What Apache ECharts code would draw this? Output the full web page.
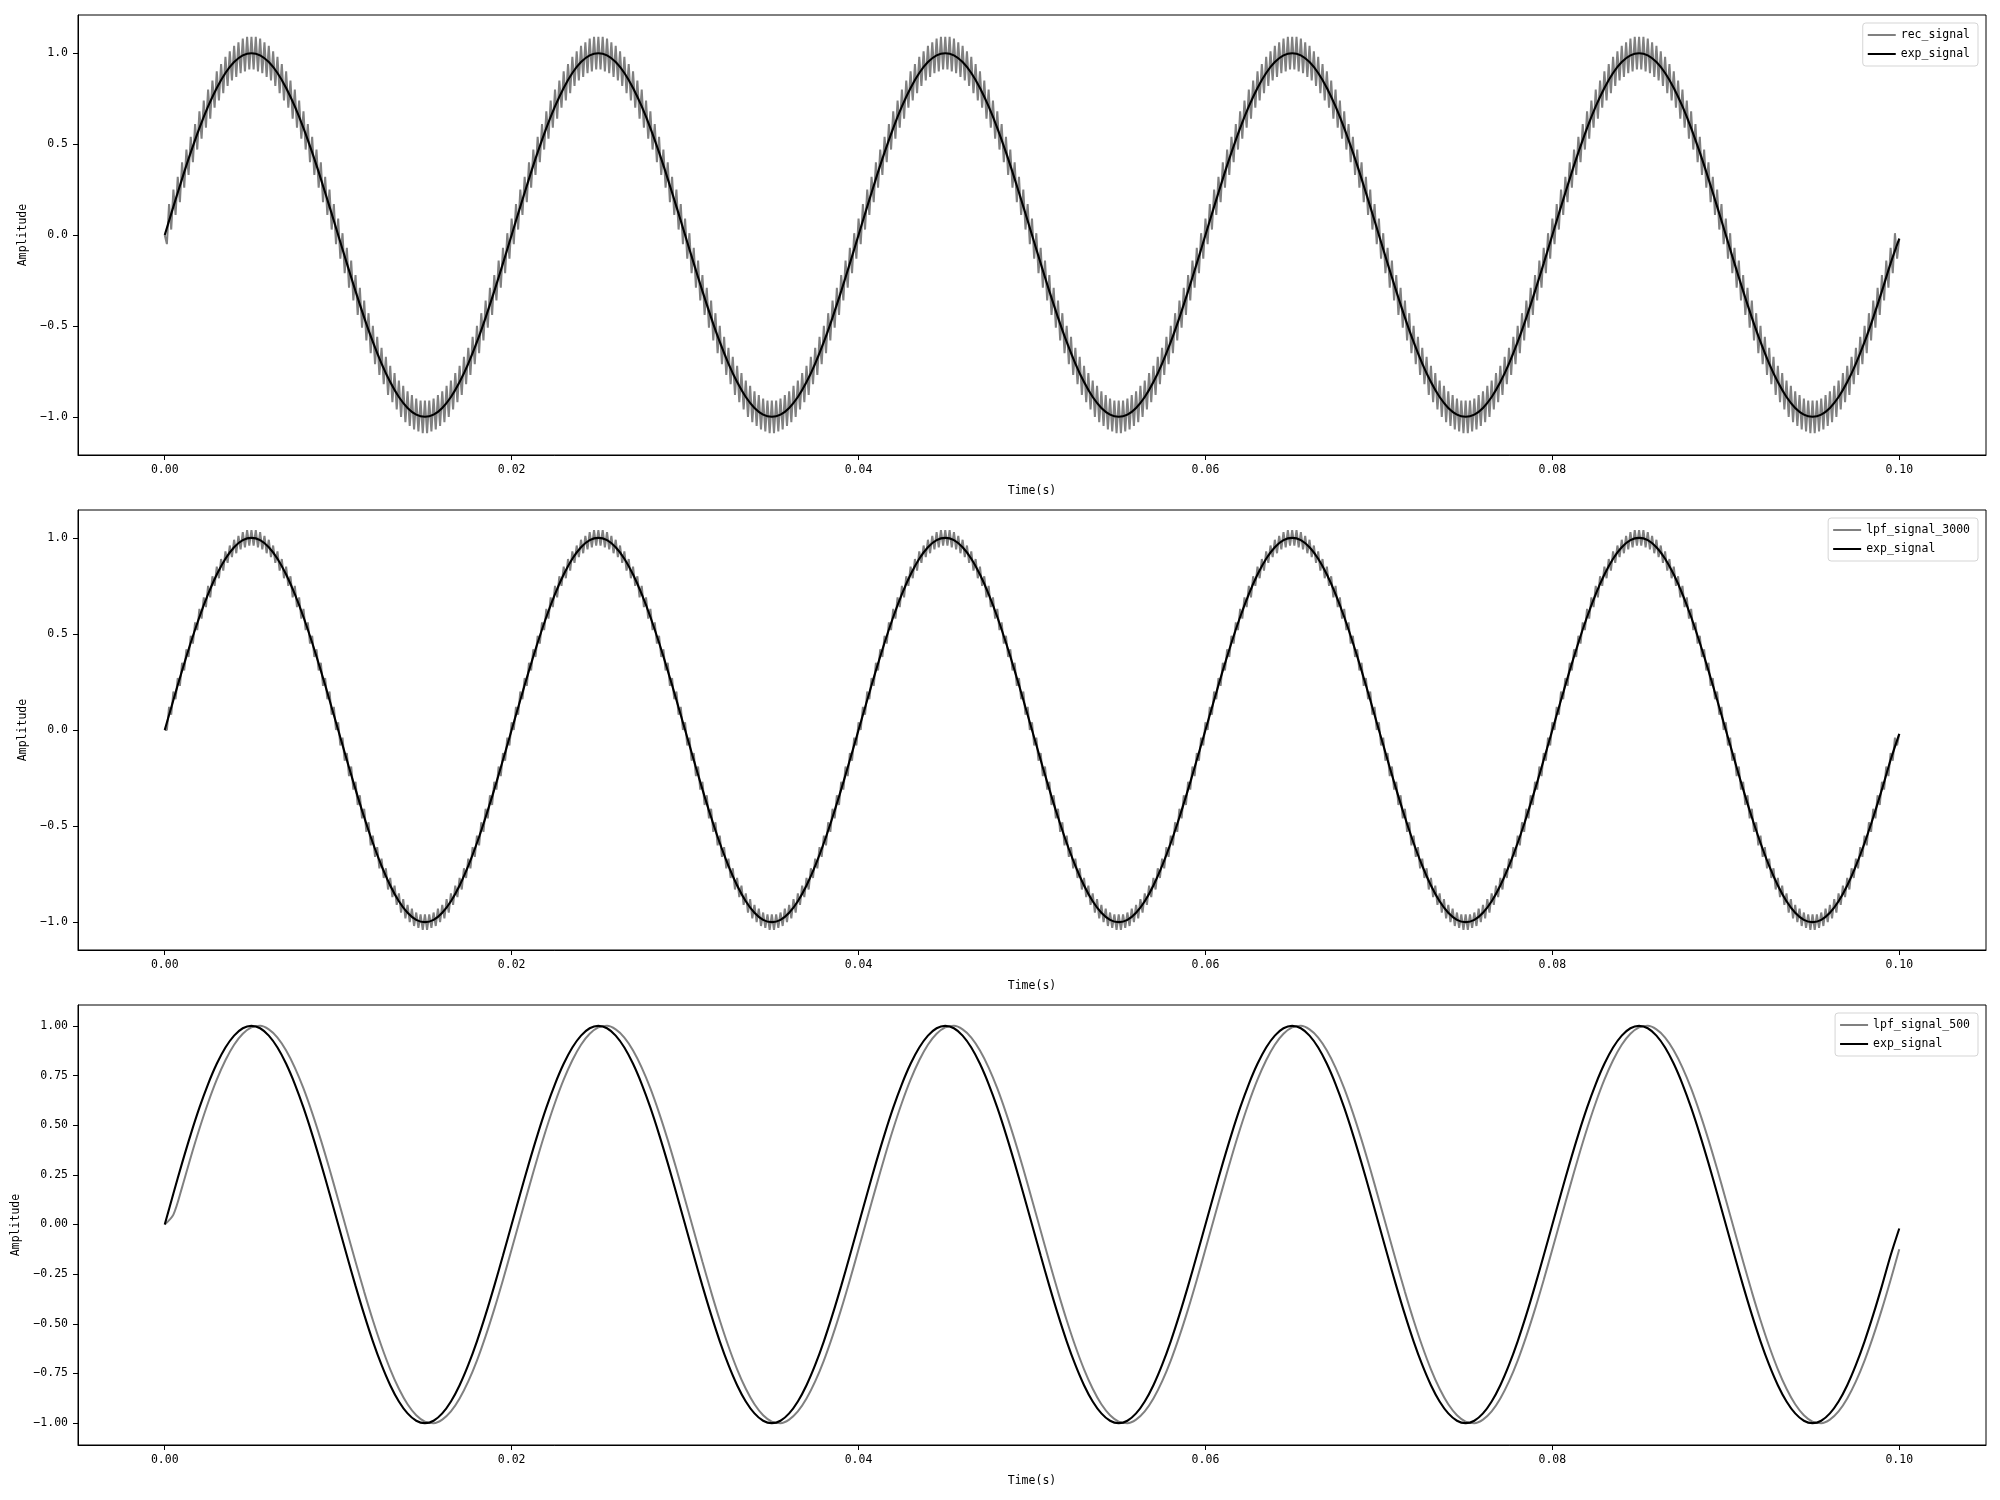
<!DOCTYPE html>
<html>
<head>
<meta charset="utf-8">
<script src="https://cdn.jsdelivr.net/npm/echarts@6/dist/echarts.min.js"></script>
<style>
html, body { margin: 0; background: #fff; }
#main { width: 2000px; height: 1500px; }
</style>
</head>
<body>
<div id="main"></div>
<script>
// sample spacing of the traces (s)
var recStep = 0.000125;
var smoothStep = 0.0005;

var xTicks = [0, 0.02, 0.04, 0.06, 0.08, 0.1];
var yTicksHalf = [-1, -0.5, 0, 0.5, 1];
var yTicksQuarter = [-1, -0.75, -0.5, -0.25, 0, 0.25, 0.5, 0.75, 1];

// raw reconstructed signal, ripple
var recSignal = [
0.00,-0.05,0.17,0.03,0.25,0.11,0.32,0.18,0.40,0.26,0.47,0.33,0.54,0.40,0.61,0.47,0.68,0.53,0.74,0.59,0.80,0.64,0.85,0.70,0.90,0.74,0.94,0.78,0.98,0.82,1.01,0.85,1.04,0.87,1.06,0.89,1.08,0.90,1.09,0.91,1.09,0.91,1.09,0.90,1.08,0.89,1.06,0.87,1.04,0.85,1.01,0.82,0.98,0.78,0.94,0.74,0.90,0.70,0.85,0.64,0.80,0.59,0.74,0.53,0.68,0.47,0.61,0.40,0.54,0.33,0.47,0.26,0.40,0.18,0.32,0.11,0.25,0.03,0.17,-0.05,
0.09,-0.13,0.01,-0.21,-0.07,-0.29,-0.14,-0.36,-0.22,-0.44,-0.29,-0.51,-0.36,-0.58,-0.43,-0.65,-0.50,-0.71,-0.56,-0.77,-0.62,-0.82,-0.67,-0.88,-0.72,-0.92,-0.76,-0.96,-0.80,-1.00,-0.83,-1.03,-0.86,-1.05,-0.88,-1.07,-0.90,-1.08,-0.91,-1.09,-0.91,-1.09,-0.91,-1.08,-0.90,-1.07,-0.88,-1.05,-0.86,-1.03,-0.83,-1.00,-0.80,-0.96,-0.76,-0.92,-0.72,-0.88,-0.67,-0.82,-0.62,-0.77,-0.56,-0.71,-0.50,-0.65,-0.43,-0.58,-0.36,-0.51,-0.29,-0.44,-0.22,-0.36,-0.14,-0.29,-0.07,-0.21,0.01,-0.13,
0.09,-0.05,0.17,0.03,0.25,0.11,0.32,0.18,0.40,0.26,0.47,0.33,0.54,0.40,0.61,0.47,0.68,0.53,0.74,0.59,0.80,0.64,0.85,0.70,0.90,0.74,0.94,0.78,0.98,0.82,1.01,0.85,1.04,0.87,1.06,0.89,1.08,0.90,1.09,0.91,1.09,0.91,1.09,0.90,1.08,0.89,1.06,0.87,1.04,0.85,1.01,0.82,0.98,0.78,0.94,0.74,0.90,0.70,0.85,0.64,0.80,0.59,0.74,0.53,0.68,0.47,0.61,0.40,0.54,0.33,0.47,0.26,0.40,0.18,0.32,0.11,0.25,0.03,0.17,-0.05,
0.09,-0.13,0.01,-0.21,-0.07,-0.29,-0.14,-0.36,-0.22,-0.44,-0.29,-0.51,-0.36,-0.58,-0.43,-0.65,-0.50,-0.71,-0.56,-0.77,-0.62,-0.82,-0.67,-0.88,-0.72,-0.92,-0.76,-0.96,-0.80,-1.00,-0.83,-1.03,-0.86,-1.05,-0.88,-1.07,-0.90,-1.08,-0.91,-1.09,-0.91,-1.09,-0.91,-1.08,-0.90,-1.07,-0.88,-1.05,-0.86,-1.03,-0.83,-1.00,-0.80,-0.96,-0.76,-0.92,-0.72,-0.88,-0.67,-0.82,-0.62,-0.77,-0.56,-0.71,-0.50,-0.65,-0.43,-0.58,-0.36,-0.51,-0.29,-0.44,-0.22,-0.36,-0.14,-0.29,-0.07,-0.21,0.01,-0.13,
0.09,-0.05,0.17,0.03,0.25,0.11,0.32,0.18,0.40,0.26,0.47,0.33,0.54,0.40,0.61,0.47,0.68,0.53,0.74,0.59,0.80,0.64,0.85,0.70,0.90,0.74,0.94,0.78,0.98,0.82,1.01,0.85,1.04,0.87,1.06,0.89,1.08,0.90,1.09,0.91,1.09,0.91,1.09,0.90,1.08,0.89,1.06,0.87,1.04,0.85,1.01,0.82,0.98,0.78,0.94,0.74,0.90,0.70,0.85,0.64,0.80,0.59,0.74,0.53,0.68,0.47,0.61,0.40,0.54,0.33,0.47,0.26,0.40,0.18,0.32,0.11,0.25,0.03,0.17,-0.05,
0.09,-0.13,0.01,-0.21,-0.07,-0.29,-0.14,-0.36,-0.22,-0.44,-0.29,-0.51,-0.36,-0.58,-0.43,-0.65,-0.50,-0.71,-0.56,-0.77,-0.62,-0.82,-0.67,-0.88,-0.72,-0.92,-0.76,-0.96,-0.80,-1.00,-0.83,-1.03,-0.86,-1.05,-0.88,-1.07,-0.90,-1.08,-0.91,-1.09,-0.91,-1.09,-0.91,-1.08,-0.90,-1.07,-0.88,-1.05,-0.86,-1.03,-0.83,-1.00,-0.80,-0.96,-0.76,-0.92,-0.72,-0.88,-0.67,-0.82,-0.62,-0.77,-0.56,-0.71,-0.50,-0.65,-0.43,-0.58,-0.36,-0.51,-0.29,-0.44,-0.22,-0.36,-0.14,-0.29,-0.07,-0.21,0.01,-0.13,
0.09,-0.05,0.17,0.03,0.25,0.11,0.32,0.18,0.40,0.26,0.47,0.33,0.54,0.40,0.61,0.47,0.68,0.53,0.74,0.59,0.80,0.64,0.85,0.70,0.90,0.74,0.94,0.78,0.98,0.82,1.01,0.85,1.04,0.87,1.06,0.89,1.08,0.90,1.09,0.91,1.09,0.91,1.09,0.90,1.08,0.89,1.06,0.87,1.04,0.85,1.01,0.82,0.98,0.78,0.94,0.74,0.90,0.70,0.85,0.64,0.80,0.59,0.74,0.53,0.68,0.47,0.61,0.40,0.54,0.33,0.47,0.26,0.40,0.18,0.32,0.11,0.25,0.03,0.17,-0.05,
0.09,-0.13,0.01,-0.21,-0.07,-0.29,-0.14,-0.36,-0.22,-0.44,-0.29,-0.51,-0.36,-0.58,-0.43,-0.65,-0.50,-0.71,-0.56,-0.77,-0.62,-0.82,-0.67,-0.88,-0.72,-0.92,-0.76,-0.96,-0.80,-1.00,-0.83,-1.03,-0.86,-1.05,-0.88,-1.07,-0.90,-1.08,-0.91,-1.09,-0.91,-1.09,-0.91,-1.08,-0.90,-1.07,-0.88,-1.05,-0.86,-1.03,-0.83,-1.00,-0.80,-0.96,-0.76,-0.92,-0.72,-0.88,-0.67,-0.82,-0.62,-0.77,-0.56,-0.71,-0.50,-0.65,-0.43,-0.58,-0.36,-0.51,-0.29,-0.44,-0.22,-0.36,-0.14,-0.29,-0.07,-0.21,0.01,-0.13,
0.09,-0.05,0.17,0.03,0.25,0.11,0.32,0.18,0.40,0.26,0.47,0.33,0.54,0.40,0.61,0.47,0.68,0.53,0.74,0.59,0.80,0.64,0.85,0.70,0.90,0.74,0.94,0.78,0.98,0.82,1.01,0.85,1.04,0.87,1.06,0.89,1.08,0.90,1.09,0.91,1.09,0.91,1.09,0.90,1.08,0.89,1.06,0.87,1.04,0.85,1.01,0.82,0.98,0.78,0.94,0.74,0.90,0.70,0.85,0.64,0.80,0.59,0.74,0.53,0.68,0.47,0.61,0.40,0.54,0.33,0.47,0.26,0.40,0.18,0.32,0.11,0.25,0.03,0.17,-0.05,
0.09,-0.13,0.01,-0.21,-0.07,-0.29,-0.14,-0.36,-0.22,-0.44,-0.29,-0.51,-0.36,-0.58,-0.43,-0.65,-0.50,-0.71,-0.56,-0.77,-0.62,-0.82,-0.67,-0.88,-0.72,-0.92,-0.76,-0.96,-0.80,-1.00,-0.83,-1.03,-0.86,-1.05,-0.88,-1.07,-0.90,-1.08,-0.91,-1.09,-0.91,-1.09,-0.91,-1.08,-0.90,-1.07,-0.88,-1.05,-0.86,-1.03,-0.83,-1.00,-0.80,-0.96,-0.76,-0.92,-0.72,-0.88,-0.67,-0.82,-0.62,-0.77,-0.56,-0.71,-0.50,-0.65,-0.43,-0.58,-0.36,-0.51,-0.29,-0.44,-0.22,-0.36,-0.14,-0.29,-0.07,-0.21,0.01,-0.13,
-0.02
];

// after 3000 Hz low-pass, smaller ripple
var lpf3000Signal = [
0.00,0.00,0.12,0.08,0.20,0.16,0.27,0.23,0.35,0.31,0.42,0.38,0.49,0.45,0.56,0.52,0.63,0.58,0.69,0.64,0.75,0.69,0.80,0.75,0.85,0.79,0.89,0.83,0.93,0.87,0.96,0.90,0.99,0.92,1.01,0.94,1.03,0.95,1.04,0.96,1.04,0.96,1.04,0.95,1.03,0.94,1.01,0.92,0.99,0.90,0.96,0.87,0.93,0.83,0.89,0.79,0.85,0.75,0.80,0.69,0.75,0.64,0.69,0.58,0.63,0.52,0.56,0.45,0.49,0.38,0.42,0.31,0.35,0.23,0.27,0.16,0.20,0.08,0.12,0.00,
0.04,-0.08,-0.04,-0.16,-0.12,-0.24,-0.19,-0.31,-0.27,-0.39,-0.34,-0.46,-0.41,-0.53,-0.48,-0.60,-0.55,-0.66,-0.61,-0.72,-0.67,-0.77,-0.72,-0.83,-0.77,-0.87,-0.81,-0.91,-0.85,-0.95,-0.88,-0.98,-0.91,-1.00,-0.93,-1.02,-0.95,-1.03,-0.96,-1.04,-0.96,-1.04,-0.96,-1.03,-0.95,-1.02,-0.93,-1.00,-0.91,-0.98,-0.88,-0.95,-0.85,-0.91,-0.81,-0.87,-0.77,-0.83,-0.72,-0.77,-0.67,-0.72,-0.61,-0.66,-0.55,-0.60,-0.48,-0.53,-0.41,-0.46,-0.34,-0.39,-0.27,-0.31,-0.19,-0.24,-0.12,-0.16,-0.04,-0.08,
0.04,0.00,0.12,0.08,0.20,0.16,0.27,0.23,0.35,0.31,0.42,0.38,0.49,0.45,0.56,0.52,0.63,0.58,0.69,0.64,0.75,0.69,0.80,0.75,0.85,0.79,0.89,0.83,0.93,0.87,0.96,0.90,0.99,0.92,1.01,0.94,1.03,0.95,1.04,0.96,1.04,0.96,1.04,0.95,1.03,0.94,1.01,0.92,0.99,0.90,0.96,0.87,0.93,0.83,0.89,0.79,0.85,0.75,0.80,0.69,0.75,0.64,0.69,0.58,0.63,0.52,0.56,0.45,0.49,0.38,0.42,0.31,0.35,0.23,0.27,0.16,0.20,0.08,0.12,0.00,
0.04,-0.08,-0.04,-0.16,-0.12,-0.24,-0.19,-0.31,-0.27,-0.39,-0.34,-0.46,-0.41,-0.53,-0.48,-0.60,-0.55,-0.66,-0.61,-0.72,-0.67,-0.77,-0.72,-0.83,-0.77,-0.87,-0.81,-0.91,-0.85,-0.95,-0.88,-0.98,-0.91,-1.00,-0.93,-1.02,-0.95,-1.03,-0.96,-1.04,-0.96,-1.04,-0.96,-1.03,-0.95,-1.02,-0.93,-1.00,-0.91,-0.98,-0.88,-0.95,-0.85,-0.91,-0.81,-0.87,-0.77,-0.83,-0.72,-0.77,-0.67,-0.72,-0.61,-0.66,-0.55,-0.60,-0.48,-0.53,-0.41,-0.46,-0.34,-0.39,-0.27,-0.31,-0.19,-0.24,-0.12,-0.16,-0.04,-0.08,
0.04,0.00,0.12,0.08,0.20,0.16,0.27,0.23,0.35,0.31,0.42,0.38,0.49,0.45,0.56,0.52,0.63,0.58,0.69,0.64,0.75,0.69,0.80,0.75,0.85,0.79,0.89,0.83,0.93,0.87,0.96,0.90,0.99,0.92,1.01,0.94,1.03,0.95,1.04,0.96,1.04,0.96,1.04,0.95,1.03,0.94,1.01,0.92,0.99,0.90,0.96,0.87,0.93,0.83,0.89,0.79,0.85,0.75,0.80,0.69,0.75,0.64,0.69,0.58,0.63,0.52,0.56,0.45,0.49,0.38,0.42,0.31,0.35,0.23,0.27,0.16,0.20,0.08,0.12,0.00,
0.04,-0.08,-0.04,-0.16,-0.12,-0.24,-0.19,-0.31,-0.27,-0.39,-0.34,-0.46,-0.41,-0.53,-0.48,-0.60,-0.55,-0.66,-0.61,-0.72,-0.67,-0.77,-0.72,-0.83,-0.77,-0.87,-0.81,-0.91,-0.85,-0.95,-0.88,-0.98,-0.91,-1.00,-0.93,-1.02,-0.95,-1.03,-0.96,-1.04,-0.96,-1.04,-0.96,-1.03,-0.95,-1.02,-0.93,-1.00,-0.91,-0.98,-0.88,-0.95,-0.85,-0.91,-0.81,-0.87,-0.77,-0.83,-0.72,-0.77,-0.67,-0.72,-0.61,-0.66,-0.55,-0.60,-0.48,-0.53,-0.41,-0.46,-0.34,-0.39,-0.27,-0.31,-0.19,-0.24,-0.12,-0.16,-0.04,-0.08,
0.04,0.00,0.12,0.08,0.20,0.16,0.27,0.23,0.35,0.31,0.42,0.38,0.49,0.45,0.56,0.52,0.63,0.58,0.69,0.64,0.75,0.69,0.80,0.75,0.85,0.79,0.89,0.83,0.93,0.87,0.96,0.90,0.99,0.92,1.01,0.94,1.03,0.95,1.04,0.96,1.04,0.96,1.04,0.95,1.03,0.94,1.01,0.92,0.99,0.90,0.96,0.87,0.93,0.83,0.89,0.79,0.85,0.75,0.80,0.69,0.75,0.64,0.69,0.58,0.63,0.52,0.56,0.45,0.49,0.38,0.42,0.31,0.35,0.23,0.27,0.16,0.20,0.08,0.12,0.00,
0.04,-0.08,-0.04,-0.16,-0.12,-0.24,-0.19,-0.31,-0.27,-0.39,-0.34,-0.46,-0.41,-0.53,-0.48,-0.60,-0.55,-0.66,-0.61,-0.72,-0.67,-0.77,-0.72,-0.83,-0.77,-0.87,-0.81,-0.91,-0.85,-0.95,-0.88,-0.98,-0.91,-1.00,-0.93,-1.02,-0.95,-1.03,-0.96,-1.04,-0.96,-1.04,-0.96,-1.03,-0.95,-1.02,-0.93,-1.00,-0.91,-0.98,-0.88,-0.95,-0.85,-0.91,-0.81,-0.87,-0.77,-0.83,-0.72,-0.77,-0.67,-0.72,-0.61,-0.66,-0.55,-0.60,-0.48,-0.53,-0.41,-0.46,-0.34,-0.39,-0.27,-0.31,-0.19,-0.24,-0.12,-0.16,-0.04,-0.08,
0.04,0.00,0.12,0.08,0.20,0.16,0.27,0.23,0.35,0.31,0.42,0.38,0.49,0.45,0.56,0.52,0.63,0.58,0.69,0.64,0.75,0.69,0.80,0.75,0.85,0.79,0.89,0.83,0.93,0.87,0.96,0.90,0.99,0.92,1.01,0.94,1.03,0.95,1.04,0.96,1.04,0.96,1.04,0.95,1.03,0.94,1.01,0.92,0.99,0.90,0.96,0.87,0.93,0.83,0.89,0.79,0.85,0.75,0.80,0.69,0.75,0.64,0.69,0.58,0.63,0.52,0.56,0.45,0.49,0.38,0.42,0.31,0.35,0.23,0.27,0.16,0.20,0.08,0.12,0.00,
0.04,-0.08,-0.04,-0.16,-0.12,-0.24,-0.19,-0.31,-0.27,-0.39,-0.34,-0.46,-0.41,-0.53,-0.48,-0.60,-0.55,-0.66,-0.61,-0.72,-0.67,-0.77,-0.72,-0.83,-0.77,-0.87,-0.81,-0.91,-0.85,-0.95,-0.88,-0.98,-0.91,-1.00,-0.93,-1.02,-0.95,-1.03,-0.96,-1.04,-0.96,-1.04,-0.96,-1.03,-0.95,-1.02,-0.93,-1.00,-0.91,-0.98,-0.88,-0.95,-0.85,-0.91,-0.81,-0.87,-0.77,-0.83,-0.72,-0.77,-0.67,-0.72,-0.61,-0.66,-0.55,-0.60,-0.48,-0.53,-0.41,-0.46,-0.34,-0.39,-0.27,-0.31,-0.19,-0.24,-0.12,-0.16,-0.04,-0.08,
-0.02
];

// after 500 Hz low-pass: smooth but lagging
var lpf500Signal = [
0,0.05,0.187,0.339,0.482,0.613,0.729,0.827,0.905,0.960,0.992,1.000,0.982,0.941,0.876,0.790,0.685,0.562,0.426,0.279,0.125,-0.031,-0.187,-0.339,-0.482,-0.613,-0.729,-0.827,-0.905,-0.960,-0.992,-1.000,-0.982,-0.941,-0.876,-0.790,-0.685,-0.562,-0.426,-0.279,
-0.125,0.031,0.187,0.339,0.482,0.613,0.729,0.827,0.905,0.960,0.992,1.000,0.982,0.941,0.876,0.790,0.685,0.562,0.426,0.279,0.125,-0.031,-0.187,-0.339,-0.482,-0.613,-0.729,-0.827,-0.905,-0.960,-0.992,-1.000,-0.982,-0.941,-0.876,-0.790,-0.685,-0.562,-0.426,-0.279,
-0.125,0.031,0.187,0.339,0.482,0.613,0.729,0.827,0.905,0.960,0.992,1.000,0.982,0.941,0.876,0.790,0.685,0.562,0.426,0.279,0.125,-0.031,-0.187,-0.339,-0.482,-0.613,-0.729,-0.827,-0.905,-0.960,-0.992,-1.000,-0.982,-0.941,-0.876,-0.790,-0.685,-0.562,-0.426,-0.279,
-0.125,0.031,0.187,0.339,0.482,0.613,0.729,0.827,0.905,0.960,0.992,1.000,0.982,0.941,0.876,0.790,0.685,0.562,0.426,0.279,0.125,-0.031,-0.187,-0.339,-0.482,-0.613,-0.729,-0.827,-0.905,-0.960,-0.992,-1.000,-0.982,-0.941,-0.876,-0.790,-0.685,-0.562,-0.426,-0.279,
-0.125,0.031,0.187,0.339,0.482,0.613,0.729,0.827,0.905,0.960,0.992,1.000,0.982,0.941,0.876,0.790,0.685,0.562,0.426,0.279,0.125,-0.031,-0.187,-0.339,-0.482,-0.613,-0.729,-0.827,-0.905,-0.960,-0.992,-1.000,-0.982,-0.941,-0.876,-0.790,-0.685,-0.562,-0.426,-0.279,
-0.125
];

// expected 50 Hz sine
var expSignal = [
0,0.156,0.309,0.454,0.588,0.707,0.809,0.891,0.951,0.988,1,0.988,0.951,0.891,0.809,0.707,0.588,0.454,0.309,0.156,0,-0.156,-0.309,-0.454,-0.588,-0.707,-0.809,-0.891,-0.951,-0.988,-1,-0.988,-0.951,-0.891,-0.809,-0.707,-0.588,-0.454,-0.309,-0.156,
0,0.156,0.309,0.454,0.588,0.707,0.809,0.891,0.951,0.988,1,0.988,0.951,0.891,0.809,0.707,0.588,0.454,0.309,0.156,0,-0.156,-0.309,-0.454,-0.588,-0.707,-0.809,-0.891,-0.951,-0.988,-1,-0.988,-0.951,-0.891,-0.809,-0.707,-0.588,-0.454,-0.309,-0.156,
0,0.156,0.309,0.454,0.588,0.707,0.809,0.891,0.951,0.988,1,0.988,0.951,0.891,0.809,0.707,0.588,0.454,0.309,0.156,0,-0.156,-0.309,-0.454,-0.588,-0.707,-0.809,-0.891,-0.951,-0.988,-1,-0.988,-0.951,-0.891,-0.809,-0.707,-0.588,-0.454,-0.309,-0.156,
0,0.156,0.309,0.454,0.588,0.707,0.809,0.891,0.951,0.988,1,0.988,0.951,0.891,0.809,0.707,0.588,0.454,0.309,0.156,0,-0.156,-0.309,-0.454,-0.588,-0.707,-0.809,-0.891,-0.951,-0.988,-1,-0.988,-0.951,-0.891,-0.809,-0.707,-0.588,-0.454,-0.309,-0.156,
0,0.156,0.309,0.454,0.588,0.707,0.809,0.891,0.951,0.988,1,0.988,0.951,0.891,0.809,0.707,0.588,0.454,0.309,0.156,0,-0.156,-0.309,-0.454,-0.588,-0.707,-0.809,-0.891,-0.951,-0.988,-1,-0.988,-0.951,-0.891,-0.809,-0.707,-0.588,-0.454,-0.309,-0.156,
-0.02
];

var myChart = echarts.init(document.getElementById('main'));
var font = 'DejaVu Sans Mono';

function toPairs(values, step) {
    return values.map(function (v, i) { return [i * step, v]; });
}

function fmt(digits) {
    return function (v) {
        var s = Math.abs(v).toFixed(digits);
        return v < -1e-9 ? '\u2212' + s : s;
    };
}

// one entry per subplot
var panels = [
    { top: 15, yMin: -1.21, yMax: 1.21, ticks: yTicksHalf, digits: 1, nameGap: 45,
      gray: 'rec_signal', grayData: toPairs(recSignal, recStep), smooth: false },
    { top: 510, yMin: -1.145, yMax: 1.145, ticks: yTicksHalf, digits: 1, nameGap: 45,
      gray: 'lpf_signal_3000', grayData: toPairs(lpf3000Signal, recStep), smooth: false },
    { top: 1005, yMin: -1.11, yMax: 1.105, ticks: yTicksQuarter, digits: 2, nameGap: 52,
      gray: 'lpf_signal_500', grayData: toPairs(lpf500Signal, smoothStep), smooth: 0.3 }
];

var textStyle = { fontFamily: font, fontSize: 11.5, color: '#000' };

var option = {
    animation: false,
    backgroundColor: '#fff',
    grid: [], xAxis: [], yAxis: [], legend: [], series: []
};

panels.forEach(function (p, i) {
    option.grid.push({
        left: 78, right: 14, top: p.top, height: 440,
        show: true, borderColor: '#000', borderWidth: 1,
        containLabel: false, outerBoundsMode: 'none'
    });
    option.xAxis.push({
        type: 'value', gridIndex: i, min: -0.005, max: 0.105,
        name: 'Time(s)', nameLocation: 'middle', nameGap: 30, nameTextStyle: textStyle,
        axisLine: { show: true, onZero: false, lineStyle: { color: '#000', width: 1 } },
        axisTick: { show: true, inside: false, length: 5, customValues: xTicks, lineStyle: { color: '#000' } },
        axisLabel: { customValues: xTicks, formatter: fmt(2), margin: 9,
                     fontFamily: font, fontSize: 11.5, color: '#000' },
        splitLine: { show: false }
    });
    option.yAxis.push({
        type: 'value', gridIndex: i, min: p.yMin, max: p.yMax,
        name: 'Amplitude', nameLocation: 'middle', nameRotate: 90, nameGap: p.nameGap,
        nameTextStyle: textStyle,
        axisLine: { show: true, onZero: false, lineStyle: { color: '#000', width: 1 } },
        axisTick: { show: true, inside: false, length: 5, customValues: p.ticks, lineStyle: { color: '#000' } },
        axisLabel: { customValues: p.ticks, formatter: fmt(p.digits), margin: 10,
                     fontFamily: font, fontSize: 11.5, color: '#000' },
        splitLine: { show: false }
    });
    option.legend.push({
        orient: 'vertical', right: 22, top: p.top + 8,
        icon: 'rect', itemWidth: 28, itemHeight: 2, itemGap: 7,
        padding: [6, 8, 6, 5],
        borderColor: '#d5d5d5', borderWidth: 1, borderRadius: 3,
        backgroundColor: 'rgba(255,255,255,0.8)',
        textStyle: textStyle,
        data: [p.gray, 'exp_signal']
    });
    option.series.push({
        type: 'line', name: p.gray, xAxisIndex: i, yAxisIndex: i,
        data: p.grayData, symbol: 'none', smooth: p.smooth, silent: true,
        lineStyle: { color: '#808080', width: 2 }, itemStyle: { color: '#808080' }
    });
    option.series.push({
        type: 'line', name: 'exp_signal', xAxisIndex: i, yAxisIndex: i,
        data: toPairs(expSignal, smoothStep), symbol: 'none', smooth: 0.3, silent: true,
        lineStyle: { color: '#000', width: 2.1 }, itemStyle: { color: '#000' }
    });
});

myChart.setOption(option);
</script>
</body>
</html>
